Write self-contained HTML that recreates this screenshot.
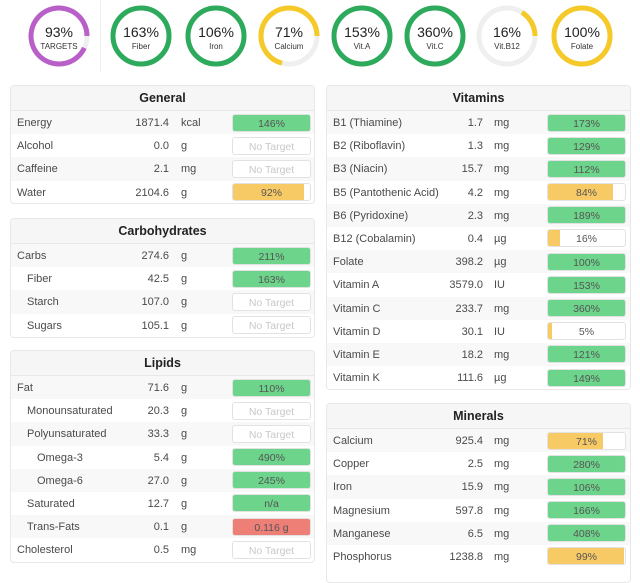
<!DOCTYPE html>
<html><head><meta charset="utf-8">
<style>
body{margin:0;width:640px;height:569px;overflow:hidden;background:#fff;font-family:"Liberation Sans",sans-serif;position:relative}
.panel{position:absolute;border:1px solid #e8e8e8;border-radius:4px;background:#fff;overflow:hidden;box-sizing:border-box}
.ph{height:24px;line-height:24px;text-align:center;font-weight:bold;font-size:12.5px;color:#222;background:#f6f6f6;border-bottom:1px solid #e8e8e8}
.row{position:relative;height:23.2px;font-size:11px;color:#4a4a4a}
.row:nth-child(odd){background:#f8f8f8}
.row span{position:absolute;top:6px;white-space:nowrap}
.bar{position:absolute;top:2.5px;height:18px;width:79px;border:1px solid #e2e2e2;border-radius:3px;box-sizing:border-box;background:#fff;overflow:hidden}
.fill{position:absolute;left:0;top:0;bottom:0}
.bt{position:absolute;left:0;right:0;top:3px;text-align:center;font-size:10.5px;color:#555}
.bt.nt{color:#c8c8c8}
</style></head><body>
<svg id="rings" width="640" height="78" style="position:absolute;left:0;top:0"></svg>
<div style="position:absolute;left:100px;top:0;width:1px;height:72px;background:#eee"></div>
<div id="panels"></div>
<script>
const ringLabels=["TARGETS","Fiber","Iron","Calcium","Vit.A","Vit.C","Vit.B12","Folate"];
const ringValues=[93,163,106,71,153,360,16,100];
const ringColors=["#b860c8","#2eaa5c","#2eaa5c","#f5c927","#2eaa5c","#2eaa5c","#f5c927","#f5c927"];
const ringX=[59,141,216,289,362,435,507,582];

const generalNames=["Energy","Alcohol","Caffeine","Water"];
const generalVals=["1871.4","0.0","2.1","2104.6"];
const generalUnits=["kcal","g","mg","g"];
const generalPct=[146,null,null,92];

const carbNames=["Carbs","Fiber","Starch","Sugars"];
const carbVals=["274.6","42.5","107.0","105.1"];
const carbUnits=["g","g","g","g"];
const carbPct=[211,163,null,null];
const carbIndent=[0,1,1,1];

const lipidNames=["Fat","Monounsaturated","Polyunsaturated","Omega-3","Omega-6","Saturated","Trans-Fats","Cholesterol"];
const lipidVals=["71.6","20.3","33.3","5.4","27.0","12.7","0.1","0.5"];
const lipidUnits=["g","g","g","g","g","g","g","mg"];
const lipidPct=[110,null,null,490,245,"n/a","0.116 g",null];
const lipidIndent=[0,1,1,2,2,1,1,0];

const vitNames=["B1 (Thiamine)","B2 (Riboflavin)","B3 (Niacin)","B5 (Pantothenic Acid)","B6 (Pyridoxine)","B12 (Cobalamin)","Folate","Vitamin A","Vitamin C","Vitamin D","Vitamin E","Vitamin K"];
const vitVals=["1.7","1.3","15.7","4.2","2.3","0.4","398.2","3579.0","233.7","30.1","18.2","111.6"];
const vitUnits=["mg","mg","mg","mg","mg","µg","µg","IU","mg","IU","mg","µg"];
const vitPct=[173,129,112,84,189,16,100,153,360,5,121,149];

const minNames=["Calcium","Copper","Iron","Magnesium","Manganese","Phosphorus"];
const minVals=["925.4","2.5","15.9","597.8","6.5","1238.8"];
const minUnits=["mg","mg","mg","mg","mg","mg"];
const minPct=[71,280,106,166,408,99];

const svg=document.getElementById('rings');
const NS="http://www.w3.org/2000/svg";
const cy=36,r=28;
ringLabels.forEach((lab,i)=>{
  const cx=ringX[i];
  const bg=document.createElementNS(NS,'circle');
  bg.setAttribute('cx',cx);bg.setAttribute('cy',cy);bg.setAttribute('r',r);
  bg.setAttribute('fill','none');bg.setAttribute('stroke','#efefef');bg.setAttribute('stroke-width',5);
  
  
  svg.appendChild(bg);
  const p=Math.min(ringValues[i],100)/100;
  let arc;
  if(p>=1){arc=document.createElementNS(NS,'circle');arc.setAttribute('cx',cx);arc.setAttribute('cy',cy);arc.setAttribute('r',r);}
  else{
    const a1=Math.PI/2, a0=a1-p*2*Math.PI;
    const x0=cx+r*Math.sin(a0),y0=cy-r*Math.cos(a0),x1=cx+r*Math.sin(a1),y1=cy-r*Math.cos(a1);
    arc=document.createElementNS(NS,'path');
    arc.setAttribute('d',`M${x0},${y0} A${r},${r} 0 ${p>0.5?1:0} 1 ${x1},${y1}`);
  }
  arc.setAttribute('fill','none');arc.setAttribute('stroke',ringColors[i]);arc.setAttribute('stroke-width',5);
  
  
  svg.appendChild(arc);
  const t=document.createElementNS(NS,'text');
  t.setAttribute('x',cx);t.setAttribute('y',cy+1);t.setAttribute('text-anchor','middle');
  t.setAttribute('font-size','14');t.setAttribute('fill','#222');t.setAttribute('font-family','Liberation Sans, sans-serif');
  t.textContent=ringValues[i]+'%';
  
  
  svg.appendChild(t);
  const l=document.createElementNS(NS,'text');
  l.setAttribute('x',cx);l.setAttribute('y',cy+13);l.setAttribute('text-anchor','middle');
  l.setAttribute('font-size','8');l.setAttribute('fill','#333');l.setAttribute('font-family','Liberation Sans, sans-serif');
  l.textContent=lab;
  
  
  svg.appendChild(l);
});

const host=document.getElementById('panels');
function panel(title,left,top,height,names,vals,units,pcts,side,indent){
  const p=document.createElement('div');
  p.className='panel';
  p.style.left=left+'px';p.style.top=top+'px';p.style.width='305px';p.style.height=height+'px';
  
  
  const h=document.createElement('div');h.className='ph';h.textContent=title;
  
  
  p.appendChild(h);
  const body=document.createElement('div');p.appendChild(body);
  const valR=side?158:160, unitX=side?167:170, barX=side?220:221;
  names.forEach((n,i)=>{
    const row=document.createElement('div');row.className='row';
    
    
    const ind=indent?indent[i]*10:0;
    row.innerHTML=`<span style="left:${6+ind}px">${n}</span><span style="right:${305-valR}px">${vals[i]}</span><span style="left:${unitX}px">${units[i]}</span>`;
    const b=document.createElement('div');b.className='bar';b.style.left=barX+'px';
    
    
    const v=pcts[i];
    let txt,col=null,w=0;
    if(v===null){txt='No Target';}
    else if(typeof v==='string'){txt=v;w=100;col=v.indexOf('g')>0?'#ee7f77':'#6dd48b';}
    else{txt=v+'%';w=Math.min(v,100);col=v>=100?'#6dd48b':'#f8ca66';}
    if(col){const f=document.createElement('div');f.className='fill';f.style.width=w+'%';f.style.background=col;
      
      
      b.appendChild(f);}
    const t=document.createElement('div');t.className='bt'+(v===null?' nt':'');t.textContent=txt;b.appendChild(t);
    row.appendChild(b);
    body.appendChild(row);
  });
  host.appendChild(p);
}
panel('General',10,85,119,generalNames,generalVals,generalUnits,generalPct,0);
panel('Carbohydrates',10,218,120,carbNames,carbVals,carbUnits,carbPct,0,carbIndent);
panel('Lipids',10,350,213,lipidNames,lipidVals,lipidUnits,lipidPct,0,lipidIndent);
panel('Vitamins',326,85,305,vitNames,vitVals,vitUnits,vitPct,1);
panel('Minerals',326,403,180,minNames,minVals,minUnits,minPct,1);
</script>
</body></html>
